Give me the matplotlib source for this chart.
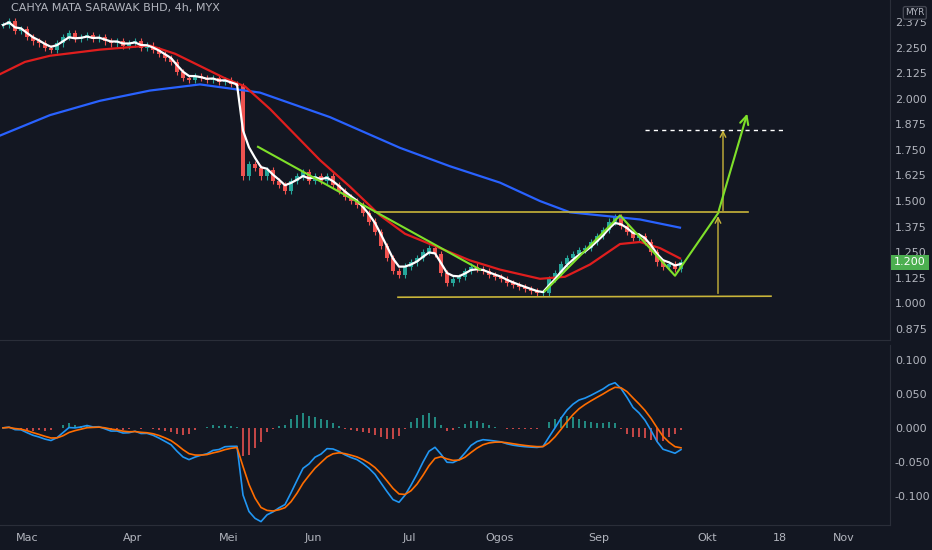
import matplotlib
matplotlib.use("Agg")
import matplotlib.pyplot as plt
import numpy as np
import pandas as pd

BG = "#131722"
TXT = "#b2b5be"

# bar positions (chart x units) and closes
bar_x = [3 + 6 * i for i in range(114)]
closes = [2.36, 2.38, 2.33, 2.34, 2.30, 2.28, 2.27, 2.25, 2.24, 2.27,
          2.30, 2.32, 2.29, 2.30, 2.31, 2.29, 2.30, 2.28, 2.27, 2.28,
          2.26, 2.27, 2.28, 2.25, 2.26, 2.24, 2.22, 2.20, 2.18, 2.13,
          2.10, 2.09, 2.11, 2.10, 2.09, 2.10, 2.08, 2.09, 2.07, 2.06,
          1.62, 1.68, 1.66, 1.62, 1.65, 1.60, 1.58, 1.55, 1.60, 1.62,
          1.64, 1.60, 1.62, 1.60, 1.62, 1.58, 1.55, 1.52, 1.50, 1.48,
          1.44, 1.40, 1.35, 1.28, 1.22, 1.16, 1.14, 1.18, 1.20, 1.22,
          1.25, 1.27, 1.24, 1.15, 1.10, 1.12, 1.13, 1.16, 1.18, 1.17,
          1.16, 1.14, 1.13, 1.12, 1.10, 1.09, 1.08, 1.07, 1.06, 1.05,
          1.05, 1.12, 1.15, 1.19, 1.22, 1.24, 1.26, 1.27, 1.30, 1.33,
          1.36, 1.40, 1.42, 1.38, 1.35, 1.32, 1.33, 1.30, 1.25, 1.20,
          1.18, 1.19, 1.17, 1.20]

red_x = [0, 25, 50, 100, 150, 175, 200, 225, 245, 270, 300, 320, 350, 380,
         405, 430, 470, 500, 540, 565, 590, 620, 640, 660, 680]
red_y = [2.12, 2.18, 2.21, 2.24, 2.26, 2.22, 2.16, 2.10, 2.06, 1.95, 1.80, 1.70,
         1.57, 1.43, 1.34, 1.29, 1.21, 1.165, 1.12, 1.13, 1.19, 1.29, 1.30, 1.27, 1.22]
blue_x = [0, 50, 100, 150, 200, 260, 330, 400, 450, 500, 540, 570, 600, 640, 680]
blue_y = [1.82, 1.92, 1.99, 2.04, 2.07, 2.03, 1.91, 1.76, 1.67, 1.59, 1.50, 1.445,
          1.43, 1.41, 1.37]

month_pos = [27, 133, 229, 313, 409, 500, 599, 707, 780, 844]
month_lbl = ["Mac", "Apr", "Mei", "Jun", "Jul", "Ogos", "Sep", "Okt", "18", "Nov"]

c = pd.Series(closes)
opens = [closes[0]] + closes[:-1]
white = c.ewm(span=3).mean()
macd = c.ewm(span=5).mean() - c.ewm(span=11).mean()
sig = macd.ewm(span=4).mean()
hist = macd - sig

fig = plt.figure(figsize=(9.32, 5.5), dpi=100, facecolor=BG)
ax = fig.add_axes([0, 1 - 340 / 550, 890 / 932, 340 / 550], facecolor=BG)
ax2 = fig.add_axes([0, 1 - 525 / 550, 890 / 932, 180 / 550], facecolor=BG)

for a in (ax, ax2):
    a.set_xlim(0, 890)
    for s in a.spines.values():
        s.set_color("#2a2e39")
    a.spines["left"].set_visible(False)
    a.spines["top"].set_visible(False)
    a.yaxis.tick_right()
    a.tick_params(colors=TXT, labelsize=8, length=0)

# candles
for x, o, cl in zip(bar_x, opens, closes):
    col = "#26a69a" if cl >= o else "#ef5350"
    ax.vlines(x, min(o, cl) - 0.015, max(o, cl) + 0.015, color=col, lw=0.8)
    ax.bar(x, max(abs(cl - o), 0.004), bottom=min(o, cl), width=4, color=col)

ax.plot(blue_x, blue_y, color="#2962ff", lw=1.6)
ax.plot(red_x, red_y, color="#e01e1e", lw=1.6)
ax.plot(bar_x, white, color="white", lw=1.6)

# drawings
ax.plot([375, 748], [1.445, 1.445], color="#c9b53a", lw=1.2)
ax.plot([398, 771], [1.03, 1.035], color="#c9b53a", lw=1.2)
ax.annotate("", xy=(718, 1.44), xytext=(718, 1.035),
            arrowprops=dict(arrowstyle="->", color="#c9b53a", lw=1))
ax.annotate("", xy=(723, 1.86), xytext=(723, 1.44),
            arrowprops=dict(arrowstyle="->", color="#c9b53a", lw=1))
ax.plot([645, 785], [1.845, 1.845], color="white", lw=1, ls=(0, (3, 3)))
ax.plot([258, 480], [1.765, 1.165], color="#7fe02a", lw=1.5)
ax.plot([545, 620, 675, 718], [1.06, 1.43, 1.135, 1.44], color="#7fe02a", lw=1.5)
ax.annotate("", xy=(748, 1.94), xytext=(718, 1.44),
            arrowprops=dict(arrowstyle="->", color="#7fe02a", lw=1.5, mutation_scale=15))

ax.set_ylim(0.821, 2.4825)
pt = [0.875, 1.0, 1.125, 1.25, 1.375, 1.5, 1.625, 1.75, 1.875, 2.0, 2.125, 2.25, 2.375]
ax.set_yticks(pt)
ax.set_yticklabels([f"{v:.3f}" for v in pt])
ax.set_xticks([])
ax.text(894, 1.20, "1.200", color="white", fontsize=8, va="center",
        bbox=dict(boxstyle="square,pad=0.25", fc="#4caf50", ec="none"), clip_on=False)
ax.text(0.012, 0.975, "CAHYA MATA SARAWAK BHD, 4h, MYX", transform=ax.transAxes,
        color=TXT, fontsize=8, va="center")
ax.text(1.017, 0.962, "MYR", transform=ax.transAxes, color=TXT, fontsize=6.5,
        va="center", bbox=dict(boxstyle="round,pad=0.2", fc=BG, ec="#434651"))

# MACD pane
hcol = ["#26a69a" if h >= 0 else "#ef5350" for h in hist]
ax2.bar(bar_x, hist, width=2, color=hcol, alpha=0.8)
ax2.plot(bar_x, macd, color="#2196f3", lw=1.2)
ax2.plot(bar_x, sig, color="#ff6d00", lw=1.2)
ax2.set_ylim(-0.143, 0.122)
mt = [-0.1, -0.05, 0.0, 0.05, 0.1]
ax2.set_yticks(mt)
ax2.set_yticklabels([f"{v:.3f}" for v in mt])
ax2.set_xticks(month_pos)
ax2.set_xticklabels(month_lbl)
ax2.tick_params(axis="x", pad=6)

fig.savefig("out.png", dpi=100, facecolor=BG)
